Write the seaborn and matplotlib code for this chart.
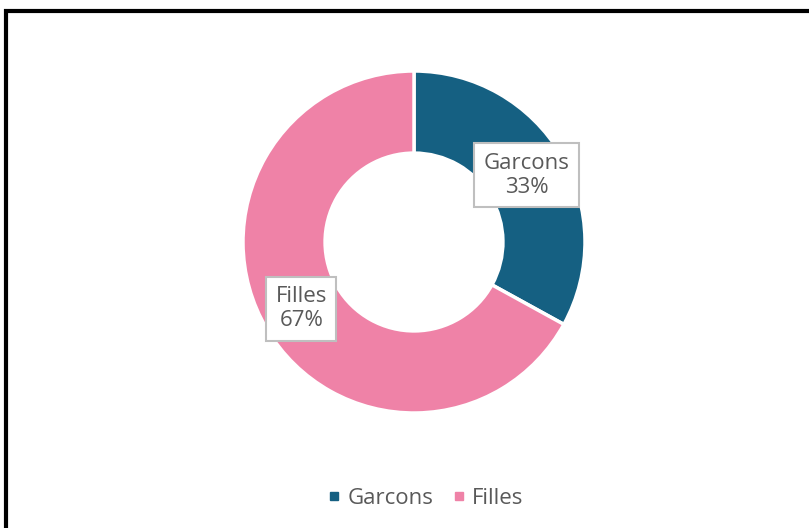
import numpy as np
import matplotlib
matplotlib.use("Agg")
import matplotlib.pyplot as plt
from matplotlib.patches import Rectangle
from matplotlib.lines import Line2D
import seaborn as sns

# Data
categories = ["Garcons", "Filles"]
shares = [33, 67]
colors = ["#156082", "#EF82A7"]

sns.set_theme(style="white")
plt.rcParams["font.family"] = ["Open Sans", "DejaVu Sans"]

W, H = 809, 528
fig = plt.figure(figsize=(W / 100, H / 100), dpi=100)
fig.patch.set_facecolor("white")

# Donut axes: centre at (414, 242) px, outer radius 171 px
cx, cy, R = 414, 242, 171
ax = fig.add_axes([(cx - R) / W, (H - cy - R) / H, 2 * R / W, 2 * R / H])
ax.set_aspect("equal")

wedges, _ = ax.pie(
    shares,
    colors=colors,
    startangle=90,
    counterclock=False,
    radius=1.0,
    wedgeprops=dict(width=0.48, edgecolor="white", linewidth=2.5),
)
ax.set_xlim(-1, 1)
ax.set_ylim(-1, 1)
ax.axis("off")

total = sum(shares)
for w, name, val in zip(wedges, categories, shares):
    mid = np.deg2rad((w.theta1 + w.theta2) / 2)
    r = 0.765
    ax.text(
        r * np.cos(mid), r * np.sin(mid),
        f"{name}\n{val / total * 100:.0f}%",
        ha="center", va="center", fontsize=16, color="#595959",
        linespacing=1.2,
        bbox=dict(boxstyle="square,pad=0.42", fc="white", ec="#BFBFBF", lw=1.5),
    )

# Legend
handles = [Line2D([0], [0], marker="s", linestyle="none", markersize=6,
                  markerfacecolor=c, markeredgecolor=c) for c in colors]
fig.legend(handles, categories, loc="center", bbox_to_anchor=(424 / W, 1 - 498 / H),
           ncol=2, frameon=False, fontsize=16, labelcolor="#595959",
           handletextpad=0.15, columnspacing=0.7, handlelength=0.9)

# Frame around the chart area
fig.patches.append(Rectangle((6 / W, -0.05), 1.2, 1 - 10.5 / H + 0.05,
                             transform=fig.transFigure, fill=False,
                             edgecolor="black", linewidth=3, zorder=10))

fig.savefig("out.png", dpi=100, facecolor="white")
